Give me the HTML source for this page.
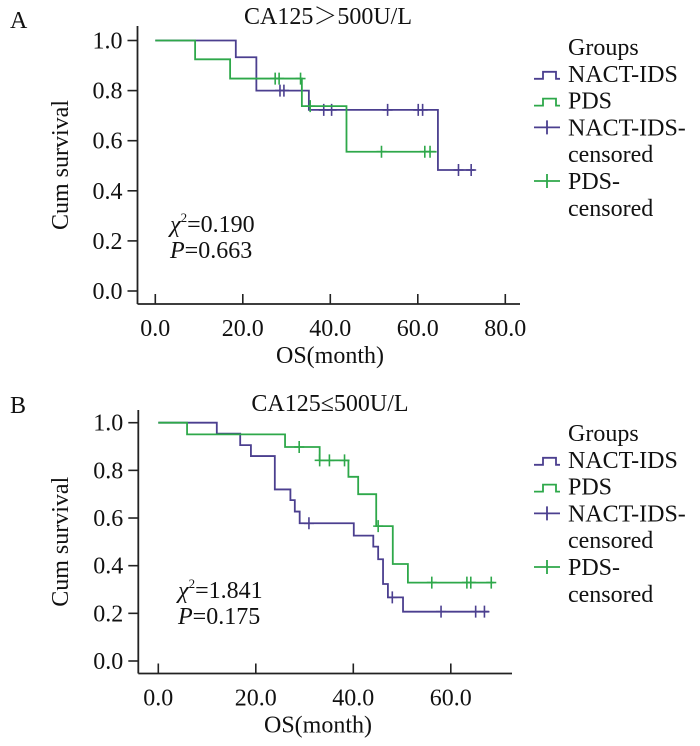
<!DOCTYPE html>
<html><head><meta charset="utf-8"><style>
body{margin:0;background:#fff;width:700px;height:746px;overflow:hidden}
svg{display:block}
text{font-family:"Liberation Serif","Noto Serif CJK SC",serif;fill:#111}
</style></head><body>
<svg id="chart" width="700" height="746"></svg>
<script>
// Panel A data
const aTicksX=[0,20,40,60,80];
const aTickLabelsX=["0.0","20.0","40.0","60.0","80.0"];
const ticksY=[0,0.2,0.4,0.6,0.8,1.0];
const tickLabelsY=["0.0","0.2","0.4","0.6","0.8","1.0"];
const aNactT=[0,18.4,23.1,35.1,64.6,73];
const aNactS=[1,0.933,0.8,0.723,0.483,0.483];
const aNactCens=[28.5,29.4,38.5,40.3,53.1,60.1,61.1,69.3,72.2];
const aPdsT=[0,9.1,17.1,33.5,43.7,64.3];
const aPdsS=[1,0.925,0.848,0.738,0.556,0.556];
const aPdsCens=[27.4,28.3,33.2,35.4,51.7,61.6,62.8];
// Panel B data
const bTicksX=[0,20,40,60];
const bTickLabelsX=["0.0","20.0","40.0","60.0"];
const bNactT=[0,12.0,16.8,19.0,23.9,27.1,28.0,29.0,40.1,44.1,45.1,46.1,47.1,50.2,67.8];
const bNactS=[1,0.954,0.906,0.86,0.72,0.675,0.627,0.578,0.526,0.48,0.427,0.323,0.267,0.207,0.207];
const bNactCens=[30.9,48.0,58.0,65.1,66.9];
const bPdsT=[0,5.9,26.0,33.1,39.0,41.0,44.7,48.1,51.2,68.8];
const bPdsS=[1,0.951,0.898,0.842,0.773,0.70,0.566,0.407,0.329,0.329];
const bPdsCens=[28.9,33.1,35.1,38.2,45.1,56.1,63.3,64.1,68.3];

const PURPLE="#4b3f8f",GREEN="#2ea84a";
const FS=24;
const svg=document.getElementById('chart');
const NS="http://www.w3.org/2000/svg";
function mk(tag,attrs,parent){const e=document.createElementNS(NS,tag);for(const k in attrs)e.setAttribute(k,attrs[k]);(parent||svg).appendChild(e);return e;}
function txt(x,y,s,size,anchor,parent){const t=mk('text',{x:x,y:y,'font-size':size,'text-anchor':anchor||'start'},parent);t.textContent=s;return t;}

function panel(cfg){
  const g=mk('g',{});
  
  
  const X=v=>cfg.x0+v*cfg.px;
  const Y=v=>cfg.y0-v*cfg.py;
  const ax=mk('line',{x1:cfg.axL,y1:cfg.axTop,x2:cfg.axL,y2:cfg.axB,stroke:'#222','stroke-width':1.8},g);
  
  
  const bx=mk('line',{x1:cfg.axL,y1:cfg.axB,x2:cfg.axR,y2:cfg.axB,stroke:'#222','stroke-width':1.8},g);
  
  
  ticksY.forEach((v,i)=>{
    mk('line',{x1:cfg.axL-10,y1:Y(v),x2:cfg.axL,y2:Y(v),stroke:'#222','stroke-width':1.6},g);
    const t=txt(cfg.axL-15,Y(v)+8,tickLabelsY[i],FS,'end',g);
    
    
  });
  cfg.ticksX.forEach((v,i)=>{
    mk('line',{x1:X(v),y1:cfg.axB,x2:X(v),y2:cfg.axB-10,stroke:'#222','stroke-width':1.6},g);
    const t=txt(X(v),cfg.axB+32,cfg.labelsX[i],FS,'middle',g);
    
    
  });
  cfg.series.forEach(s=>{
    let d=`M${X(s.t[0])},${Y(s.s[0])}`;
    for(let i=1;i<s.t.length;i++){d+=` H${X(s.t[i])} V${Y(s.s[i])}`;}
    const p=mk('path',{d:d,fill:'none',stroke:s.c,'stroke-width':1.8},g);
    
    
    s.cens.forEach(c=>{
      let val=s.s[0];
      for(let i=0;i<s.t.length;i++){if(s.t[i]<=c)val=s.s[i];}
      const m=mk('path',{d:`M${X(c)},${Y(val)-6}V${Y(val)+6}M${X(c)-5},${Y(val)}H${X(c)+5}`,stroke:s.c,'stroke-width':1.6},g);
      
      
    });
  });
  const pl=txt(10,cfg.letterY,cfg.letter,FS,'start',g);
  
  
  const ti=txt(cfg.titleX,cfg.titleY,cfg.title,FS,'middle',g);
  
  
  const yt=txt(0,0,'Cum survival',FS,'middle',g);
  yt.setAttribute('transform',`translate(68,${(cfg.axTop+cfg.axB)/2}) rotate(-90)`);
  
  
  const xt=txt(cfg.xTitleX,cfg.axB+59,'OS(month)',FS,'middle',g);
  
  
  const st=mk('text',{x:cfg.statX,y:cfg.statY,'font-size':FS},g);
  st.innerHTML='<tspan font-style="italic">χ</tspan><tspan font-size="13" dy="-10">2</tspan><tspan dy="10">='+cfg.chi+'</tspan>';
  
  
  const pt=mk('text',{x:cfg.statX,y:cfg.statY+26,'font-size':FS},g);
  pt.innerHTML='<tspan font-style="italic">P</tspan>='+cfg.p;
  
  
  const L=cfg.legY;
  const lg=mk('g',{},g);
  
  
  txt(568,L,'Groups',FS,'start',lg);
  const rows=[['NACT-IDS',PURPLE,'step'],['PDS',GREEN,'step'],['NACT-IDS-',PURPLE,'cross'],['censored',null,null],['PDS-',GREEN,'cross'],['censored',null,null]];
  rows.forEach((r,i)=>{
    const y=L+26.8*(i+1);
    const e=txt(568,y,r[0],FS,'start',lg);
    
    
    if(r[2]==='step'){mk('path',{d:`M534,${y-3}H543V${y-10}H556V${y-3}H560`,fill:'none',stroke:r[1],'stroke-width':1.8},lg);}
    else if(r[2]==='cross'){mk('path',{d:`M534,${y-8}H560M547,${y-15}V${y-1}`,fill:'none',stroke:r[1],'stroke-width':1.8},lg);}
  });
}

panel({name:'panel-a',letter:'A',letterY:28,title:'CA125＞500U/L',titleX:328,titleY:24,
  x0:155.3,px:4.375,y0:291,py:250.5,axL:137.5,axTop:26,axB:304,axR:520,
  ticksX:aTicksX,labelsX:aTickLabelsX,xTitleX:330,statX:170,statY:232,chi:'0.190',p:'0.663',legY:55,
  series:[{name:'nact-ids',t:aNactT,s:aNactS,cens:aNactCens,c:PURPLE},{name:'pds',t:aPdsT,s:aPdsS,cens:aPdsCens,c:GREEN}]});
panel({name:'panel-b',letter:'B',letterY:413,title:'CA125≤500U/L',titleX:330,titleY:411,
  x0:158.3,px:4.875,y0:661,py:238.3,axL:138.3,axTop:410,axB:673.5,axR:512,
  ticksX:bTicksX,labelsX:bTickLabelsX,xTitleX:318,statX:178,statY:598,chi:'1.841',p:'0.175',legY:441,
  series:[{name:'nact-ids',t:bNactT,s:bNactS,cens:bNactCens,c:PURPLE},{name:'pds',t:bPdsT,s:bPdsS,cens:bPdsCens,c:GREEN}]});
</script>
</body></html>
